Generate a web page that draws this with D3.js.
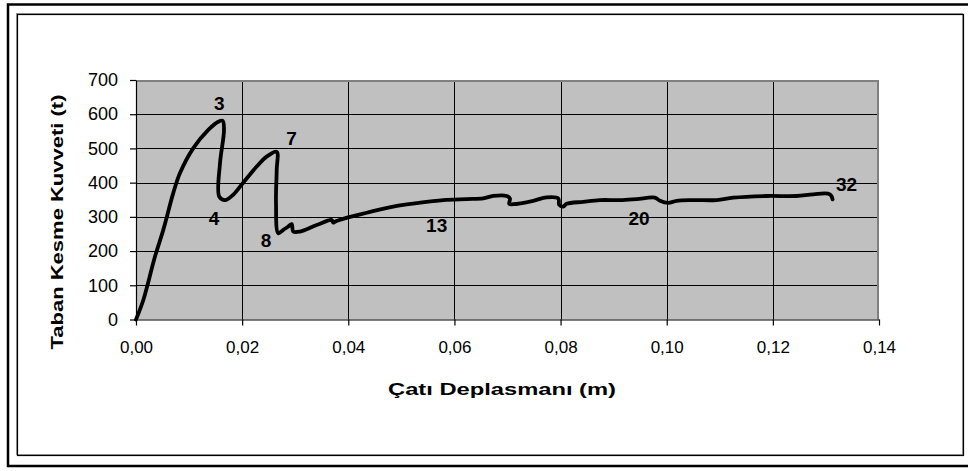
<!DOCTYPE html>
<html>
<head>
<meta charset="utf-8">
<script src="https://cdn.jsdelivr.net/npm/d3@7"></script>
<style>
  html, body { margin: 0; padding: 0; background: #fff; }
  svg { display: block; font-family: "Liberation Sans", Arial, sans-serif; }
</style>
</head>
<body>
<svg id="chart" width="968" height="471"></svg>
<script>
// Pushover curve: roof displacement (m) vs. base shear (t)
const roofDisp = [
  0, 0.00138, 0.00358, 0.00514, 0.00703, 0.00829, 0.0108, 0.01362, 0.0155, 0.01633,
  0.01658, 0.01583, 0.01569, 0.01677, 0.01827, 0.02016, 0.02274, 0.02462, 0.02651,
  0.02651, 0.02638, 0.02681, 0.02775, 0.02864, 0.02933, 0.02964, 0.0309,
  0.03405, 0.03687, 0.03717, 0.03749, 0.04032, 0.04346, 0.04847, 0.05288, 0.05789,
  0.0623, 0.06543, 0.06731, 0.06984, 0.07046, 0.07033, 0.07108, 0.07485, 0.07737,
  0.07956, 0.07975, 0.0805, 0.08114, 0.08427, 0.08742, 0.09118, 0.09433, 0.09778,
  0.09872, 0.10029, 0.10187, 0.105, 0.10941, 0.11254, 0.11883, 0.12448, 0.12761,
  0.13075, 0.13126
];
const baseShear = [
  0, 57, 184, 262, 370, 428, 501, 554, 578, 581,
  554, 457, 359, 349, 364, 399, 447, 476, 490,
  437, 341, 252, 262, 271, 279, 257, 257,
  276, 291, 283, 286, 300, 312, 330, 340, 349,
  352, 354, 361, 361, 354, 338, 337, 347, 357,
  354, 335, 330, 338, 344, 349, 349, 352, 356,
  347, 341, 347, 349, 349, 356, 361, 361, 366,
  366, 351
];

// Step number annotations
const stepNames = ["3", "4", "7", "8", "13", "20", "32"];
const stepDisp  = [0.01569, 0.0147, 0.02933, 0.02449, 0.05665, 0.09477, 0.1339];
const stepShear = [632, 296, 530, 232, 276, 296, 396];

const xTickValues = [0, 0.02, 0.04, 0.06, 0.08, 0.10, 0.12, 0.14];
const yTickValues = [0, 100, 200, 300, 400, 500, 600, 700];

const xTitle = "Çatı Deplasmanı (m)";
const yTitle = "Taban Kesme Kuvveti (t)";

const svg = d3.select("#chart");
const plot = { left: 136, right: 879, top: 80, bottom: 319.5 };

const x = d3.scaleLinear().domain([0, 0.14]).range([plot.left, plot.right]);
const y = d3.scaleLinear().domain([0, 700]).range([plot.bottom, plot.top]);

const trLocale = d3.formatLocale({ decimal: ",", thousands: ".", grouping: [3], currency: ["", "TL"] });
const fmtX = trLocale.format(".2f");

// Outer frame (open on the right)
svg.append("path")
  .attr("d", "M968,4.5 H8 V466 H968")
  .attr("fill", "none").attr("stroke", "#000").attr("stroke-width", 2.5);

// Inner chart-area frame with a soft shadow
svg.append("rect")
  .attr("x", 16.5).attr("y", 13.5).attr("width", 946).attr("height", 441)
  .attr("fill", "none").attr("stroke", "#999").attr("stroke-width", 1);
svg.append("rect")
  .attr("x", 17.5).attr("y", 14.5).attr("width", 946).attr("height", 441)
  .attr("fill", "none").attr("stroke", "#000").attr("stroke-width", 1.2);

// Plot background
svg.append("rect")
  .attr("x", plot.left).attr("y", plot.top)
  .attr("width", plot.right - plot.left).attr("height", plot.bottom - plot.top)
  .attr("fill", "#c0c0c0");

// Gridlines
svg.append("g").selectAll("line").data(yTickValues.slice(1, -1)).join("line")
  .attr("x1", plot.left).attr("x2", plot.right)
  .attr("y1", d => Math.round(y(d)) + 0.5).attr("y2", d => Math.round(y(d)) + 0.5)
  .attr("stroke", "#000").attr("stroke-width", 1);
svg.append("g").selectAll("line").data(xTickValues.slice(1, -1)).join("line")
  .attr("y1", plot.top).attr("y2", plot.bottom)
  .attr("x1", d => Math.round(x(d)) + 0.5).attr("x2", d => Math.round(x(d)) + 0.5)
  .attr("stroke", "#000").attr("stroke-width", 1);

// Plot border on top and right
svg.append("path")
  .attr("d", `M${plot.left},${plot.top + 1} H${plot.right - 1} V${plot.bottom}`)
  .attr("fill", "none").attr("stroke", "#808080").attr("stroke-width", 2);

// Axes
const xAxis = d3.axisBottom(x).tickValues(xTickValues).tickFormat(fmtX).tickSizeInner(6).tickSizeOuter(0).tickPadding(12);
const yAxis = d3.axisLeft(y).tickValues(yTickValues).tickSizeInner(6).tickSizeOuter(0).tickPadding(12);

const gx = svg.append("g").attr("transform", `translate(0,${plot.bottom})`).call(xAxis);
const gy = svg.append("g").attr("transform", `translate(${plot.left},0)`).call(yAxis);

[gx, gy].forEach(g => {
  g.select(".domain").attr("stroke", "#000").attr("stroke-width", 1.2);
  g.selectAll(".tick line").attr("stroke", "#000").attr("stroke-width", 1.2);
  g.selectAll(".tick text")
    .attr("fill", "#000")
    .style("font-family", "'Liberation Sans', Arial, sans-serif")
    .style("font-size", "17px");
});
gx.selectAll(".tick text").attr("dy", "0.9em");
gy.selectAll(".tick text").style("font-size", "18px");

// Pushover curve
const pts = roofDisp.map((d, i) => [d, baseShear[i]]);
svg.append("path")
  .datum(pts)
  .attr("d", d3.line().x(d => x(d[0])).y(d => y(d[1])).curve(d3.curveCatmullRom.alpha(0.5)))
  .attr("fill", "none").attr("stroke", "#000")
  .attr("stroke-width", 3.8).attr("stroke-linejoin", "round").attr("stroke-linecap", "round");

// Step labels
svg.append("g").selectAll("text").data(stepNames).join("text")
  .attr("x", (d, i) => x(stepDisp[i]))
  .attr("y", (d, i) => y(stepShear[i]))
  .attr("text-anchor", "middle").attr("dominant-baseline", "central")
  .style("font-size", "19px").style("font-weight", "bold")
  .text(d => d);

// Axis titles (wide letter spacing)
svg.append("text")
  .attr("x", 502).attr("y", 389)
  .attr("text-anchor", "middle").attr("dominant-baseline", "central")
  .attr("textLength", 228).attr("lengthAdjust", "spacingAndGlyphs")
  .style("font-size", "17px").style("font-weight", "bold")
  .text(xTitle);

svg.append("text")
  .attr("transform", "translate(57,222) rotate(-90)")
  .attr("text-anchor", "middle").attr("dominant-baseline", "central")
  .attr("textLength", 255).attr("lengthAdjust", "spacingAndGlyphs")
  .style("font-size", "17px").style("font-weight", "bold")
  .text(yTitle);
</script>
</body>
</html>
